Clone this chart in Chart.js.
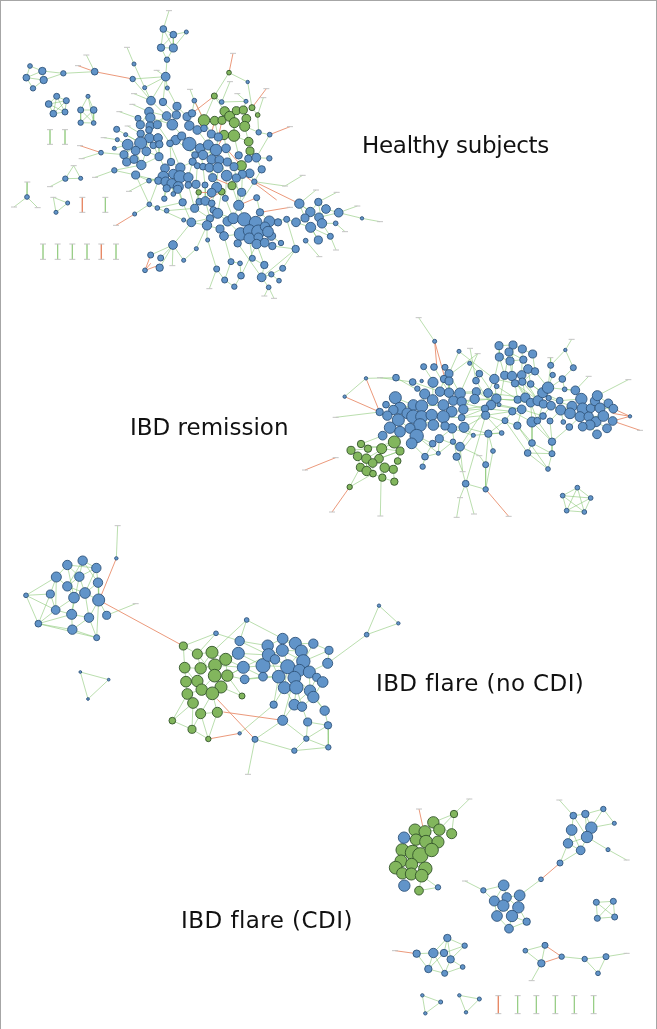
<!DOCTYPE html>
<html>
<head>
<meta charset="utf-8">
<title>Networks</title>
<script src="https://cdn.jsdelivr.net/npm/chart.js@4"></script>
<style>
  html, body { margin: 0; padding: 0; background: #fff; }
  #wrap { position: relative; width: 657px; height: 1029px; overflow: hidden; }
  #frame { position: absolute; inset: 0; border: 1px solid #a6a6a6; border-bottom: 0; }
  canvas { position: absolute; left: 0; top: 0; }
  .name { position: absolute; font: 23px "DejaVu Sans", sans-serif; color: #111; white-space: nowrap; line-height: 28px; }
</style>
</head>
<body>
<div id="wrap">
  <canvas id="net" width="657" height="1029"></canvas>
  <div id="frame"></div>
  <div class="name" style="left:362px;top:131px;letter-spacing:-0.3px">Healthy subjects</div>
  <div class="name" style="left:130px;top:413px">IBD remission</div>
  <div class="name" style="left:376px;top:669px;letter-spacing:0.4px">IBD flare (no CDI)</div>
  <div class="name" style="left:181px;top:906px;letter-spacing:0.45px">IBD flare (CDI)</div>
</div>
<script>
// nodes are [x, y, size], edges are [x1, y1, x2, y2] at 3x

// Healthy subjects
const healthyBlue = [[490,87,8],[520,104,8],[559,96,4],[483,143,9],[520,144,10],[501,179,6],[497,230,11],
  [90,198,5],[127,213,9],[79,233,8],[131,240,9],[99,265,6],[190,220,6],[284,215,8],[398,237,6],[402,192,4],[434,263,4],[502,264,4],
  [170,289,7],[199,302,7],[146,312,8],[160,341,8],[195,336,7],[264,289,4],[242,330,7],[281,330,8],[242,368,6],[281,369,5],
  [453,302,11],[489,306,9],[531,319,10],[447,335,11],[451,353,12],[414,355,7],[500,348,11],[529,345,10],[561,350,10],[576,340,9],[421,374,10],[450,378,10],[472,374,10],[517,374,14],[568,377,12],[350,388,7],[377,404,4],[422,401,9],[447,390,8],[592,390,11],[612,385,8],[448,414,12],[474,414,11],[527,420,12],[545,408,10],[510,430,8],[422,429,16],[383,434,14],[460,436,8],[478,433,9],[568,432,18],[600,445,12],[625,435,13],[634,402,10],[655,411,10],[407,452,11],[439,454,11],[372,464,10],[343,445,4],[352,419,4],[303,458,5],[380,486,10],[402,478,10],[424,495,12],[343,511,6],[407,525,10],[477,470,10],[513,486,9],
  [648,450,15],[678,445,11],[609,465,12],[585,465,8],[635,478,12],[658,480,11],[682,486,10],[578,485,9],[592,497,7],[609,500,8],[628,503,11],[654,503,13],[702,500,10],[716,466,9],[745,476,9],[769,473,11],[808,475,6],[776,397,6],[809,404,5],[785,508,9],[749,520,11],[727,523,10],[709,534,10],[680,527,14],[638,533,10],
  [495,505,11],[541,503,12],[490,530,14],[520,522,12],[540,530,16],[565,532,12],[475,542,9],[497,545,12],[515,550,12],[535,560,13],[565,555,8],[588,553,10],[500,565,9],[533,568,10],[447,542,5],[615,555,7],[650,562,13],[635,578,11],[520,582,5],
  [548,607,9],[584,625,10],[598,605,8],[616,603,11],[635,610,8],[640,630,8],[676,595,7],[493,596,6],[472,624,5],[500,632,5],[448,613,5],[404,642,4],[716,616,13],[770,593,7],[763,545,6],[725,577,10],
  [653,640,13],[630,655,9],[621,676,12],[660,687,10],[672,708,11],[683,664,12],[700,655,14],[733,658,18],[780,637,9],[767,668,17],[722,702,17],[748,692,16],[775,695,18],[808,664,14],[795,680,12],[814,708,11],[748,715,14],[775,712,11],[804,695,14],[770,732,12],[794,728,11],[817,738,9],[713,730,9],[843,729,6],[860,658,7],[834,667,9],[551,660,4],[574,667,11],
  [898,611,12],[955,606,9],[978,627,11],[931,636,12],[1016,638,11],[915,654,10],[888,667,11],[957,652,11],[966,670,12],[932,682,13],[1007,670,5],[991,709,7],[955,720,10],[917,722,5],[887,747,9],[1086,655,3],
  [519,735,11],[589,746,4],[623,720,4],[452,765,7],[482,774,7],[479,803,9],[435,811,5],[551,781,4],[650,807,7],[674,840,7],[703,860,6],[693,785,7],[720,790,5],[723,827,8],[757,775,7],[793,795,9],[848,805,7],[814,823,6],[785,832,11],[837,842,5],[806,862,5],
  [665,306,5],[738,304,4],[583,302,5],[743,246,3],[81,591,5],[196,536,6],[242,535,4],[203,609,4],[168,637,4]];
const healthyGreen = [[612,361,15],[644,362,11],[666,361,10],[674,334,12],[689,349,13],[709,332,10],[730,330,10],[739,356,11],[703,368,13],[734,379,13],[672,405,12],[702,407,15],[756,323,7],[773,345,5],[746,425,11],[750,453,10],[724,497,13],[696,557,10],[665,575,8],[596,577,6],[643,288,7],[687,218,5]];
const healthyTags = [[507,32],[381,142],[259,165],[234,197],[470,211],[699,160],[690,245],[570,268],[712,281],[799,266],[402,281],[790,293],[397,313],[358,335],[383,378],[311,413],[240,437],[245,476],[150,389],[195,389],[150,433],[195,433],[221,497],[150,560],[285,532],[387,574],[82,546],[42,621],[113,623],[160,592],[247,592],[316,592],[247,637],[316,637],[348,676],[129,732],[173,732],[217,732],[261,732],[304,732],[348,732],[129,778],[173,778],[217,778],[261,778],[304,778],[348,778],[870,380],[908,526],[855,558],[948,570],[1010,577],[1072,618],[1140,665],[1035,695],[1008,750],[958,770],[870,622],[517,797],[628,866],[793,888],[822,895]];
const healthyPlus = [[507,32,490,87],[490,87,483,143],[490,87,520,144],[490,87,520,104],[520,104,483,143],[520,104,520,144],[559,96,520,144],[559,96,520,104],[483,143,520,144],[483,143,501,179],[520,144,501,179],[501,179,497,230],
  [90,198,127,213],[90,198,79,233],[127,213,79,233],[127,213,131,240],[79,233,131,240],[131,240,99,265],[79,233,99,265],[127,213,190,220],[131,240,190,220],[190,220,284,215],[259,165,284,215],
  [398,237,497,230],[398,237,453,302],[381,142,402,192],[402,192,434,263],[434,263,453,302],[470,211,497,230],[497,230,434,263],[497,230,502,264],[502,264,531,319],[497,230,453,302],[497,230,489,306],
  [687,218,643,288],[687,218,743,246],[743,246,756,323],[690,245,665,306],[643,288,612,361],[643,288,665,306],[665,306,738,304],[643,288,674,334],[712,281,738,304],[738,304,730,330],[790,293,773,345],[809,404,776,397],[809,404,769,473],[776,397,734,379],[756,323,773,345],[773,345,776,397],[570,268,583,302],[583,302,576,340],[583,302,612,361],
  [170,289,199,302],[170,289,146,312],[170,289,160,341],[170,289,195,336],[199,302,160,341],[199,302,195,336],[146,312,195,336],[146,312,160,341],[160,341,195,336],[146,312,199,302],
  [264,289,242,330],[264,289,281,330],[264,289,281,369],[242,330,281,330],[242,330,242,368],[242,330,281,369],[281,330,242,368],[281,330,281,369],[242,368,281,369],
  [150,389,150,433],[195,389,195,433],[129,732,129,778],[173,732,173,778],[217,732,217,778],[261,732,261,778],[348,732,348,778],[316,592,316,637],
  [358,335,414,355],[402,281,453,302],[397,313,447,335],[383,378,422,401],[311,413,352,419],[245,476,303,458],[303,458,372,464],[285,532,343,511],[343,511,407,525],[343,511,424,495],[221,497,196,536],[221,497,242,535],[196,536,242,535],[150,560,196,536],[82,546,81,591],[42,621,81,591],[113,623,81,591],[160,592,203,609],[160,592,168,637],[203,609,168,637],[387,574,447,542],[404,642,448,613],[448,613,407,525],[448,613,472,624],[472,624,551,660],[551,660,574,667],
  [519,735,452,765],[519,735,482,774],[519,735,479,803],[519,735,517,797],[519,735,551,781],[519,735,574,667],[589,746,551,781],[589,746,621,676],[623,720,621,676],[623,720,650,807],[650,807,628,866],[650,807,674,840],[674,840,703,860],[703,860,723,827],[693,785,674,840],[693,785,720,790],[720,790,723,827],[693,785,672,708],[757,775,793,795],[757,775,748,715],[793,795,785,832],[793,795,770,732],[848,805,814,823],[814,823,785,832],[785,832,806,862],[806,862,793,888],[806,862,822,895],[837,842,814,823],[848,805,887,747],[887,747,860,658],[887,747,817,738],[785,832,713,730],[785,832,887,747],[723,827,770,732],
  [860,658,888,667],[888,667,915,654],[888,667,932,682],[898,611,931,636],[898,611,915,654],[898,611,957,652],[955,606,978,627],[955,606,931,636],[955,606,966,670],[978,627,957,652],[978,627,1016,638],[931,636,966,670],[931,636,957,652],[957,652,1016,638],[966,670,1007,670],[966,670,991,709],[932,682,955,720],[932,682,991,709],[915,654,955,720],[917,722,958,770],[1016,638,1072,618],[1016,638,1086,655],[1086,655,1140,665],[1007,670,1035,695],[991,709,1008,750],[908,526,855,558],[855,558,763,545],[948,570,898,611],[1010,577,955,606],
  [422,429,372,464],[422,429,407,452],[383,434,407,452],[383,434,380,486],[372,464,402,478],[407,452,424,495],[439,454,424,495],[439,454,477,470],[422,401,474,414],[447,335,500,348],[451,353,517,374],[489,306,529,345],[531,319,561,350],[453,302,500,348],[500,348,472,374],[561,350,568,377],[568,377,592,390],[592,390,625,435],[568,432,600,445],[545,408,568,432],[517,374,568,432],[527,420,510,430],[477,470,495,505],[513,486,541,503],[490,530,447,542],[475,542,448,613],[497,545,493,596],[515,550,520,582],[535,560,548,607],[588,553,598,605],[565,555,584,625],[615,555,616,603],[650,562,635,610],[638,533,650,562],[680,527,676,595],[709,534,716,616],[727,523,725,577],[749,520,763,545],[725,577,716,616],[696,557,716,616],[665,575,653,640],[596,577,584,625],[548,607,574,667],[584,625,630,655],[616,603,630,655],[635,610,653,640],[640,630,683,664],[716,616,733,658],[716,616,700,655],[676,595,700,655],[770,593,780,637],[834,667,808,664],[814,708,843,729],[746,425,769,473],[750,453,745,476],[734,379,746,425],[702,407,746,425],[724,497,749,520],[612,361,634,402],[644,362,655,411],[672,405,678,445],[702,407,716,466],[703,368,702,407],[612,385,612,361],[648,450,609,465],[654,503,680,527],[628,503,638,533],[541,503,578,485],[585,465,568,432],[578,485,565,532],[592,497,588,553],[609,500,615,555],[654,503,650,562],[702,500,709,534],[477,470,478,433],[513,486,510,430],[769,473,785,508],[785,508,763,545],[808,475,769,473],[653,640,621,676],[683,664,660,687],[660,687,672,708],[672,708,722,702],[574,667,621,676],
  [414,355,421,374],[350,388,422,429],[377,404,422,429],[343,445,383,434],[352,419,383,434],[447,335,421,374],[500,348,450,378],[529,345,517,374],[472,374,510,430],[474,414,477,470],[448,414,439,454],[460,436,477,470],[510,430,541,503],[527,420,585,465],[600,445,609,500],[625,435,635,478],[655,411,648,450],[634,402,609,465],[678,445,702,500],[658,480,680,527],[635,478,638,533],[495,505,475,542],[541,503,565,532],[520,522,535,560],[490,530,500,565],[447,542,475,542],[407,525,475,542],[407,525,447,542],[424,495,477,470],[500,565,493,596],[533,568,548,607],[650,562,676,595],[635,578,598,605],[725,577,680,527],[763,545,716,616],[653,640,700,655],[683,664,722,702],[733,658,767,668],[780,637,808,664],[808,664,860,658],[733,658,748,692],[775,695,804,695],[722,702,713,730],[770,732,748,715],[817,738,794,728],[660,687,621,676],[630,655,574,667],[500,632,584,625],[472,624,548,607]];
const healthyMinus = [[234,197,284,215],[284,215,398,237],[699,160,687,218],[643,288,576,340],[799,266,756,323],[870,380,809,404],[240,437,303,458],[247,592,247,637],[304,732,304,778],[348,676,404,642],[452,765,435,811],[435,811,479,795],[435,811,452,790],[763,545,898,611],[725,520,830,600],[770,593,716,616],[870,622,780,637],[612,361,592,390],[644,362,634,402],[666,361,655,411],[672,405,648,450],[596,577,635,578],[665,575,616,603],[696,557,638,533],[724,497,678,445],[612,361,583,302]];

// IBD remission
const remissionBlue = [[404,94,4],[477,124,4],[509,160,4],[371,170,7],[402,171,8],[435,172,7],[447,191,10],[432,207,9],[447,213,10],[399,217,13],[338,216,8],[288,203,8],[198,205,3],[134,260,3],[239,306,9],[258,284,8],[286,263,16],[352,236,6],[365,213,3],
  [374,252,13],[420,245,12],[447,248,12],[480,250,14],[398,270,14],[529,245,10],[564,249,11],[524,267,12],[589,266,12],[573,285,12],[555,296,9],[557,316,10],[597,284,4],[538,191,8],[528,212,8],[583,207,12],[590,229,5],
  [340,285,14],[365,288,16],[300,295,16],[322,310,14],[280,300,12],[262,317,12],[295,330,16],[340,320,18],[365,320,16],[395,315,15],[430,285,14],[460,272,12],[485,275,12],[490,298,12],[455,305,14],[430,320,16],[400,345,14],[360,345,17],[270,353,15],[300,365,14],[330,355,13],[350,378,18],[248,377,11],[335,400,14],[418,386,10],[398,401,8],[456,355,12],[435,348,10],[492,352,13],[485,323,8],[375,440,8],[368,470,6],[415,430,4],[459,395,6],[480,410,11],[470,440,9],[520,376,4],[565,371,9],[579,423,5],[557,464,7],[497,521,8],[557,538,6],
  [597,107,10],[639,105,10],[667,117,10],[627,126,10],[698,132,10],[598,141,10],[630,153,10],[670,149,9],[614,196,10],[636,198,12],[665,195,11],[684,177,11],[705,184,9],[645,220,9],[667,215,9],[692,222,8],[752,166,7],[758,195,6],[787,207,8],[820,173,7],[794,238,5],[796,120,3],
  [653,269,9],[676,263,12],[692,278,11],[714,272,13],[728,248,13],[744,233,15],[746,264,6],[730,282,10],[753,287,11],[779,272,8],[665,298,11],[637,304,9],[615,332,7],[652,347,9],[696,336,13],[712,332,8],[729,318,8],[750,333,7],[605,369,5],[696,399,8],[756,395,9],[683,429,8],[756,431,7],[744,477,5],[790,336,5],[808,351,8],
  [826,241,11],[844,267,15],[782,300,13],[816,289,13],[810,310,14],[848,296,15],[840,320,13],[872,295,11],[885,273,12],[892,257,13],[925,280,11],[940,296,11],[900,294,13],[866,320,12],[888,335,13],[910,318,14],[938,333,11],[921,355,11],[891,373,11],[870,345,13],[848,350,11],[990,319,3],
  [832,533,5],[788,557,5],[872,564,5],[853,606,5],[800,602,5]];
const remissionGreen = [[283,396,16],[183,402,9],[204,416,9],[153,421,10],[245,416,13],[300,423,10],[173,439,11],[199,446,12],[237,446,11],[218,459,11],[293,453,8],[181,472,10],[200,483,12],[219,491,8],[254,473,12],[280,478,10],[247,503,9],[283,515,9],[149,531,6]];
const remissionTags = [[356,23],[510,115],[533,131],[240,203],[107,322],[15,480],[107,443],[96,606],[241,618],[470,622],[480,563],[522,612],[626,619],[815,88],[866,199],[985,209],[1020,361],[488,485],[751,143],[538,437]];
const remissionPlus = [[356,23,404,94],[477,124,447,191],[510,115,528,212],[533,131,432,207],[509,160,538,191],[477,124,583,207],[533,131,480,250],[371,170,420,245],[402,171,447,248],[435,172,480,250],[198,205,288,203],[240,203,338,216],[288,203,374,252],[338,216,420,245],[198,205,134,260],[107,322,239,306],[239,306,262,317],[258,284,300,295],[286,263,340,285],[352,236,398,270],[447,248,529,245],[480,250,564,249],[485,275,589,266],[490,298,573,285],[460,272,555,296],[529,245,597,284],[524,267,653,269],[564,249,676,263],[589,266,692,278],[573,285,665,298],[557,316,637,304],[583,207,645,220],[597,107,639,105],[597,107,598,141],[639,105,667,117],[627,126,670,149],[667,117,698,132],[598,141,630,153],[630,153,670,149],[670,149,684,177],[627,126,614,196],[639,105,636,198],[667,117,665,195],[698,132,705,184],[598,141,614,196],[630,153,636,198],[684,177,692,222],[705,184,667,215],[614,196,645,220],[636,198,692,278],[665,195,676,263],[645,220,653,269],[692,222,728,248],[667,215,714,272],[752,166,744,233],[758,195,744,233],[787,207,728,248],[820,173,787,207],[796,120,752,166],[796,120,820,173],[815,88,796,120],[751,143,752,166],[787,207,794,238],[794,238,826,241],[866,199,826,241],[985,209,892,257],[826,241,844,267],[779,272,844,267],[753,287,782,300],[782,300,816,289],[816,289,848,296],[810,310,840,320],[848,296,885,273],[872,295,925,280],[892,257,925,280],[885,273,900,294],[900,294,940,296],[910,318,938,333],[866,320,910,318],[888,335,921,355],[870,345,891,373],[848,350,870,345],[790,336,782,300],[808,351,840,320],[750,333,782,300],[729,318,753,287],[712,332,730,282],[696,336,692,278],[652,347,665,298],[615,332,637,304],[605,369,557,316],[652,347,696,399],[696,336,696,399],[696,336,756,395],[712,332,756,395],[750,333,756,395],[696,399,683,429],[696,399,756,431],[756,395,756,431],[683,429,756,431],[683,429,744,477],[756,431,744,477],[615,332,683,429],[652,347,744,477],[808,351,756,395],[565,371,579,423],[565,371,557,464],[538,437,557,464],[557,464,557,538],[579,423,557,538],[480,410,538,437],[480,410,488,485],[470,440,488,485],[488,485,497,521],[497,521,480,563],[497,521,522,612],[480,563,470,622],[497,521,557,538],[557,316,497,521],[555,296,480,410],[520,376,470,440],[492,352,520,376],[492,352,565,371],[485,323,555,296],[415,430,375,440],[375,440,368,470],[398,401,375,440],[418,386,415,430],[459,395,415,430],[459,395,480,410],[456,355,470,440],[350,378,415,430],[335,400,375,440],
  [832,533,788,557],[832,533,872,564],[832,533,853,606],[832,533,800,602],[788,557,872,564],[788,557,853,606],[788,557,800,602],[872,564,853,606],[872,564,800,602],[800,602,853,606],
  [248,377,183,402],[283,396,204,416],[283,396,245,416],[245,416,300,423],[183,402,204,416],[153,421,173,439],[204,416,199,446],[245,416,237,446],[199,446,218,459],[173,439,181,472],[199,446,200,483],[237,446,254,473],[218,459,219,491],[300,423,293,453],[293,453,280,478],[254,473,280,478],[181,472,200,483],[200,483,247,503],[254,473,247,503],[280,478,283,515],[247,503,283,515],[245,416,241,618],[183,402,245,416],[153,421,204,416],[283,396,199,446],[300,423,237,446],[219,491,149,531],[181,472,149,531],[237,446,300,423],
  [262,317,300,295],[300,295,340,285],[340,285,365,288],[365,288,430,285],[270,353,300,365],[295,330,330,355],[340,320,400,345],[395,315,455,305],[430,320,485,323],[398,270,430,285],[420,245,460,272],[374,252,365,288],[447,213,447,248],[432,207,420,245],[399,217,398,270],[400,345,456,355],[435,348,492,352],[418,386,456,355],[350,378,398,401],[490,298,529,245],[485,275,524,267],[455,305,555,296],[492,352,557,316],[485,323,557,316],[456,355,520,376],[418,386,480,410],
  [528,212,573,285],[538,191,589,266],[583,207,589,266],[583,207,564,249],[590,229,653,269],[597,284,665,298],[614,196,597,284],[636,198,676,263],[665,195,714,272],[598,141,583,207],[705,184,744,233],[645,220,730,282],[692,222,746,264],[676,263,753,287],[714,272,782,300],[728,248,779,272],[744,233,826,241],[746,264,816,289],[665,298,729,318],[692,278,712,332],[637,304,696,336],[555,296,637,304],[557,316,652,347],[565,371,615,332],[565,371,605,369],[520,376,605,369]];
const remissionMinus = [[404,94,410,165],[404,94,432,195],[198,205,239,306],[134,260,239,306],[107,443,15,480],[149,531,96,606],[557,538,626,619],[938,310,990,319],[938,333,990,319],[938,333,1020,361],[940,296,990,319]];

// IBD flare (no CDI)
const flareBlue = [[172,135,12],[218,122,12],[259,144,12],[139,171,13],[208,170,12],[264,188,12],[172,199,12],[225,219,14],[192,233,14],[266,240,16],[121,222,10],[48,226,5],[137,270,11],[185,283,13],[237,293,12],[290,286,10],[85,311,8],[187,329,12],[260,353,7],[319,115,3],[618,340,5],[710,300,5],
  [689,363,12],[685,400,16],[700,442,16],[704,478,11],[759,437,19],[759,470,11],[773,377,15],[776,405,17],[795,418,12],[818,356,14],[817,391,16],[856,370,16],[874,393,16],[910,371,12],[957,391,10],[953,430,13],[880,424,18],[833,440,19],[868,451,16],[898,456,16],[806,470,17],[853,473,17],[920,472,10],[938,486,14],[823,503,16],[859,502,18],[900,512,15],[910,531,15],[853,554,14],[876,560,12],[944,572,12],[791,554,9],[818,601,13],[893,606,10],[954,616,9],[889,656,6],[853,692,6],[955,682,6],[735,658,7],[689,640,3],[1070,344,5],[1107,257,3],[1165,310,3],
  [211,456,2],[296,479,2],[234,537,2]];
const flareGreen = [[520,378,10],[562,402,13],[606,397,16],[647,418,16],[524,443,14],[572,445,15],[615,436,17],[614,467,17],[652,467,15],[528,485,14],[562,483,15],[575,509,15],[633,501,16],[607,520,17],[532,522,14],[549,549,14],[572,581,13],[622,577,13],[487,602,8],[546,628,10],[595,657,6],[696,528,7]];
const flareTags = [[323,17],[377,251],[714,763]];
const flarePlus = [[323,17,319,115],[172,135,139,171],[172,135,208,170],[172,135,192,233],[218,122,259,144],[218,122,208,170],[218,122,172,199],[218,122,264,188],[259,144,208,170],[259,144,264,188],[259,144,225,219],[139,171,172,199],[139,171,121,222],[139,171,48,226],[139,171,137,270],[208,170,225,219],[208,170,172,199],[264,188,266,240],[264,188,225,219],[172,199,192,233],[172,199,225,219],[225,219,266,240],[192,233,225,219],[192,233,185,283],[192,233,137,270],[121,222,48,226],[121,222,137,270],[121,222,85,311],[48,226,85,311],[48,226,137,270],[137,270,185,283],[137,270,85,311],[185,283,237,293],[185,283,187,329],[237,293,266,240],[237,293,260,353],[237,293,187,329],[290,286,266,240],[290,286,377,251],[266,240,260,353],[85,311,187,329],[85,311,260,353],[187,329,260,353],[85,311,185,283],[225,219,237,293],[208,170,185,283],[172,135,259,144],
  [211,456,296,479],[296,479,234,537],[211,456,234,537],
  [520,378,618,340],[618,340,689,363],[618,340,562,402],[710,300,606,397],[710,300,689,363],[710,300,818,356],[689,363,773,377],[685,400,776,405],[685,400,647,418],[700,442,759,437],[700,442,652,467],[704,478,759,470],[759,437,833,440],[759,470,806,470],[773,377,818,356],[776,405,817,391],[795,418,833,440],[818,356,856,370],[817,391,874,393],[856,370,910,371],[874,393,880,424],[910,371,957,391],[957,391,953,430],[953,430,898,456],[880,424,868,451],[833,440,853,473],[868,451,898,456],[806,470,823,503],[853,473,859,502],[898,456,938,486],[920,472,900,512],[938,486,910,531],[823,503,853,554],[859,502,876,560],[900,512,944,572],[910,531,944,572],[853,554,818,601],[876,560,893,606],[944,572,954,616],[893,606,954,616],[818,601,889,656],[893,606,889,656],[954,616,889,656],[954,616,955,682],[889,656,853,692],[889,656,955,682],[853,692,955,682],[818,601,735,658],[735,658,853,692],[735,658,714,763],[791,554,689,640],[791,554,806,470],[791,554,823,503],[818,601,853,473],[953,430,1070,344],[1070,344,1107,257],[1070,344,1165,310],[1107,257,1165,310],[856,370,880,424],[817,391,853,473],[874,393,833,440],[776,405,806,470],[773,377,759,437],[910,371,880,424],[957,391,880,424],[880,424,938,486],[868,451,859,502],[853,473,900,512],[833,440,823,503],
  [520,378,562,402],[520,378,524,443],[562,402,606,397],[562,402,572,445],[606,397,647,418],[606,397,615,436],[647,418,652,467],[524,443,572,445],[524,443,528,485],[572,445,615,436],[572,445,562,483],[615,436,614,467],[614,467,652,467],[614,467,575,509],[528,485,562,483],[528,485,532,522],[562,483,575,509],[575,509,607,520],[633,501,607,520],[652,467,633,501],[532,522,549,549],[532,522,575,509],[549,549,572,581],[607,520,622,577],[607,520,572,581],[572,581,622,577],[549,549,487,602],[532,522,487,602],[487,602,546,628],[572,581,546,628],[549,549,546,628],[622,577,595,657],[572,581,595,657],[546,628,595,657],[633,501,696,528],[652,467,696,528],[647,418,685,400],[652,467,704,478],[615,436,700,442],[562,402,614,467],[606,397,572,445],[647,418,614,467],[524,443,575,509],
  [685,400,759,437],[700,442,776,405],[689,363,776,405],[704,478,806,470],[700,442,759,470],[647,418,700,442],[652,467,700,442],[759,437,795,418],[773,377,795,418],[795,418,868,451],[817,391,880,424],[818,356,874,393],[853,473,898,456],[859,502,900,512],[823,503,859,502],[898,456,900,512],[920,472,938,486],[868,451,920,472],[853,554,876,560],[876,560,910,531],[853,554,900,512],[859,502,853,554]];
const flareMinus = [[319,115,270,235],[266,240,520,378],[622,538,735,658],[640,576,818,601],[595,657,689,640]];

// IBD flare (CDI)
const cdiBlue = [[102,143,15],[103,287,15],[204,292,6],[610,77,8],[646,72,9],[700,57,6],[733,100,4],[664,113,15],[605,120,14],[651,141,15],[594,160,12],[632,181,11],[714,179,4],[570,219,7],[513,268,5],
  [401,286,14],[340,301,6],[449,316,14],[410,322,12],[373,333,13],[400,347,15],[445,352,15],[381,378,14],[426,378,15],[470,395,9],[417,416,11],
  [679,337,7],[730,334,7],[682,385,7],[734,381,7],
  [232,444,9],[284,467,6],[140,491,9],[190,489,12],[222,489,9],[242,508,9],[278,531,5],[175,537,9],[224,550,7],
  [525,466,7],[466,482,5],[575,500,6],[514,520,9],[644,507,6],[708,500,7],[684,550,5],
  [157,616,3],[212,636,4],[166,670,3],[268,616,3],[328,627,4],[288,667,3]];
const cdiGreen = [[252,72,9],[190,97,15],[208,119,15],[245,131,13],[135,120,16],[165,125,16],[138,149,15],[168,155,17],[204,156,16],[97,180,17],[128,188,20],[151,196,21],[185,180,18],[93,213,16],[125,223,16],[77,233,17],[166,236,18],[97,250,15],[124,252,16],[155,257,17],[147,302,11]];
const cdiTags = [[298,27],[147,57],[568,30],[770,210],[285,273],[75,482],[770,490],[485,572],[385,617],[385,671],[443,617],[443,671],[499,617],[499,671],[556,617],[556,671],[613,617],[613,671],[671,617],[671,671]];
const cdiPlus = [[298,27,252,72],[252,72,190,97],[252,72,245,131],[252,72,208,119],[190,97,245,131],[155,257,204,292],[147,302,204,292],[155,257,147,302],
  [568,30,610,77],[610,77,646,72],[646,72,700,57],[700,57,733,100],[700,57,664,113],[646,72,664,113],[646,72,651,141],[610,77,605,120],[610,77,651,141],[664,113,733,100],[605,120,594,160],[605,120,632,181],[651,141,594,160],[651,141,632,181],[664,113,651,141],[594,160,632,181],[651,141,714,179],[714,179,770,210],[632,181,570,219],[594,160,570,219],
  [285,273,340,301],[340,301,401,286],[340,301,373,333],[401,286,410,322],[401,286,373,333],[449,316,410,322],[449,316,445,352],[449,316,513,268],[410,322,400,347],[373,333,400,347],[373,333,381,378],[400,347,426,378],[445,352,426,378],[445,352,470,395],[381,378,417,416],[426,378,417,416],[426,378,470,395],[470,395,417,416],[400,347,381,378],[410,322,445,352],
  [679,337,730,334],[679,337,682,385],[679,337,734,381],[730,334,682,385],[730,334,734,381],[682,385,734,381],
  [232,444,284,467],[232,444,190,489],[232,444,222,489],[232,444,242,508],[284,467,222,489],[284,467,242,508],[140,491,190,489],[140,491,175,537],[190,489,222,489],[190,489,175,537],[190,489,224,550],[222,489,242,508],[242,508,278,531],[242,508,224,550],[175,537,224,550],[224,550,278,531],[222,489,175,537],
  [466,482,514,520],[466,482,525,466],[525,466,514,520],[514,520,485,572],[575,500,644,507],[644,507,708,500],[644,507,684,550],[708,500,684,550],[708,500,770,490],
  [157,616,212,636],[157,616,166,670],[212,636,166,670],[268,616,328,627],[268,616,288,667],[328,627,288,667],
  [443,617,443,671],[499,617,499,671],[556,617,556,671],[613,617,613,671],[671,617,671,671],
  [135,120,165,125],[165,125,208,119],[190,97,165,125],[138,149,168,155],[168,155,204,156],[97,180,128,188],[128,188,151,196],[151,196,185,180],[93,213,125,223],[125,223,166,236],[77,233,97,250],[97,250,124,252],[124,252,155,257],[166,236,155,257]];
const cdiMinus = [[147,57,158,108],[513,268,570,219],[75,482,140,491],[525,466,575,500],[514,520,575,500],[385,617,385,671]];

// each panel has its own pair of axes, offset is where the crop starts on the page
const panels = [
  { id: 'a', left: 0, top: 0, blue: healthyBlue, green: healthyGreen, tags: healthyTags, plus: healthyPlus, minus: healthyMinus },
  { id: 'b', left: 300, top: 310, blue: remissionBlue, green: remissionGreen, tags: remissionTags, plus: remissionPlus, minus: remissionMinus },
  { id: 'c', left: 10, top: 520, blue: flareBlue, green: flareGreen, tags: flareTags, plus: flarePlus, minus: flareMinus },
  { id: 'd', left: 370, top: 790, blue: cdiBlue, green: cdiGreen, tags: cdiTags, plus: cdiPlus, minus: cdiMinus }
];

function toSegments(edges) {
  const pts = [];
  edges.forEach(e => {
    pts.push({ x: e[0], y: e[1] }, { x: e[2], y: e[3] }, { x: null, y: null });
  });
  return pts;
}

function toPoints(nodes) {
  return nodes.map(n => ({ x: n[0], y: n[1] }));
}

const datasets = [];
const scales = {};

panels.forEach(p => {
  const xId = 'x' + p.id;
  const yId = 'y' + p.id;
  scales[xId] = { type: 'linear', axis: 'x', display: false, min: -p.left * 3, max: (657 - p.left) * 3 };
  scales[yId] = { type: 'linear', axis: 'y', display: false, min: -p.top * 3, max: (1029 - p.top) * 3, reverse: true };

  datasets.push({
    data: toSegments(p.plus), xAxisID: xId, yAxisID: yId, showLine: true, spanGaps: false, order: 5,
    borderColor: 'rgba(140,200,120,0.6)', borderWidth: 1, pointRadius: 0
  });
  datasets.push({
    data: toSegments(p.minus), xAxisID: xId, yAxisID: yId, showLine: true, spanGaps: false, order: 4,
    borderColor: 'rgba(232,135,100,0.85)', borderWidth: 1, pointRadius: 0
  });
  datasets.push({
    data: toPoints(p.tags), xAxisID: xId, yAxisID: yId, order: 3,
    pointStyle: 'line', pointRadius: 3, borderColor: '#c4c4c4', pointBorderWidth: 1, backgroundColor: '#c4c4c4'
  });
  datasets.push({
    data: toPoints(p.green), xAxisID: xId, yAxisID: yId, order: 2,
    pointRadius: p.green.map(n => n[2] / 3 + 0.7), backgroundColor: '#82b65d', borderColor: '#33552a', pointBorderWidth: 0.9
  });
  datasets.push({
    data: toPoints(p.blue), xAxisID: xId, yAxisID: yId, order: 1,
    pointRadius: p.blue.map(n => n[2] / 3 + 0.7), backgroundColor: '#6194c9', borderColor: '#30557c', pointBorderWidth: 0.9
  });
});

new Chart(document.getElementById('net'), {
  type: 'scatter',
  data: { datasets },
  options: {
    responsive: false,
    animation: false,
    events: [],
    layout: { padding: 0, autoPadding: false },
    scales,
    plugins: { legend: { display: false }, tooltip: { enabled: false } }
  }
});
</script>
</body>
</html>
